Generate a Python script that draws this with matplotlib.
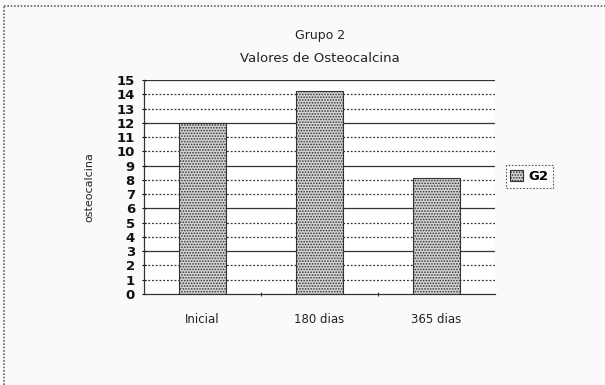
import matplotlib.pyplot as plt
from matplotlib.lines import Line2D

plt.rcParams["font.family"] = ["DejaVu Sans"]
plt.rcParams["hatch.color"] = "#555555"
plt.rcParams["hatch.linewidth"] = 0.8

categories = ["Inicial", "180 dias", "365 dias"]
values = [12, 14.2, 8.1]
series_name = "G2"
y_ticks = list(range(0, 16))

fig = plt.figure(figsize=(6.05, 3.85), dpi=100, facecolor="#fafafa")
ax = fig.add_axes([144 / 605, 1 - 294 / 385, 351 / 605, 214 / 385])
ax.set_facecolor("white")

x = range(len(categories))
bars = ax.bar(x, values, width=0.4, color="#d4d4d4", edgecolor="#333333",
              linewidth=0.8, hatch="......", label=series_name, zorder=3)

# gridlines: solid every third step, dotted elsewhere
for v in y_ticks[1:]:
    if v % 3 == 0:
        ax.axhline(v, color="#333333", lw=0.9, zorder=1)
    else:
        ax.axhline(v, color="#333333", lw=0.9, ls=(0, (1.5, 1.5)), zorder=1)

ax.set_xlim(-0.5, len(categories) - 0.5)
ax.set_ylim(0, 15)
ax.set_yticks(y_ticks)
ax.set_yticklabels([str(v) for v in y_ticks], fontsize=9.5, fontweight="heavy",
                   family="DejaVu Sans", color="#111111")
ax.set_xticks(list(x))
ax.set_xticklabels(categories, fontsize=8.5, color="#222222")
ax.tick_params(axis="x", length=0, pad=14)
ax.tick_params(axis="y", length=3, direction="inout", pad=5)
ax.set_xticks([0.5, 1.5], minor=True)
ax.tick_params(axis="x", which="minor", length=3, direction="inout")

for side in ["top", "right"]:
    ax.spines[side].set_visible(False)
for side in ["left", "bottom"]:
    ax.spines[side].set_color("#333333")
    ax.spines[side].set_linewidth(0.9)

ax.set_ylabel("osteocalcina", fontsize=8, color="#222222", labelpad=16)

fig.text(320 / 605, 1 - 35 / 385, "Grupo 2", ha="center", va="center",
         fontsize=9, color="#222222")
fig.text(320 / 605, 1 - 58 / 385, "Valores de Osteocalcina", ha="center",
         va="center", fontsize=9.5, color="#222222")

leg = ax.legend(loc="center left", bbox_to_anchor=(1.03, 0.55), frameon=True,
                fancybox=False, handlelength=1.0, handleheight=1.0,
                handletextpad=0.4, borderpad=0.35, borderaxespad=0,
                prop={"weight": "bold", "size": 9.5})
leg.get_frame().set_edgecolor("#333333")
leg.get_frame().set_linestyle((0, (1.5, 1.5)))
leg.get_frame().set_linewidth(0.8)

# dotted edge along the left and top of the chart area
edge = dict(color="#666666", lw=1.2, ls=(0, (1, 1)), transform=fig.transFigure)
fig.add_artist(Line2D([4 / 605, 4 / 605], [0, 1 - 6 / 385], **edge))
fig.add_artist(Line2D([4 / 605, 1], [1 - 6 / 385, 1 - 6 / 385], **edge))

fig.savefig("out.png", dpi=100, facecolor=fig.get_facecolor())
